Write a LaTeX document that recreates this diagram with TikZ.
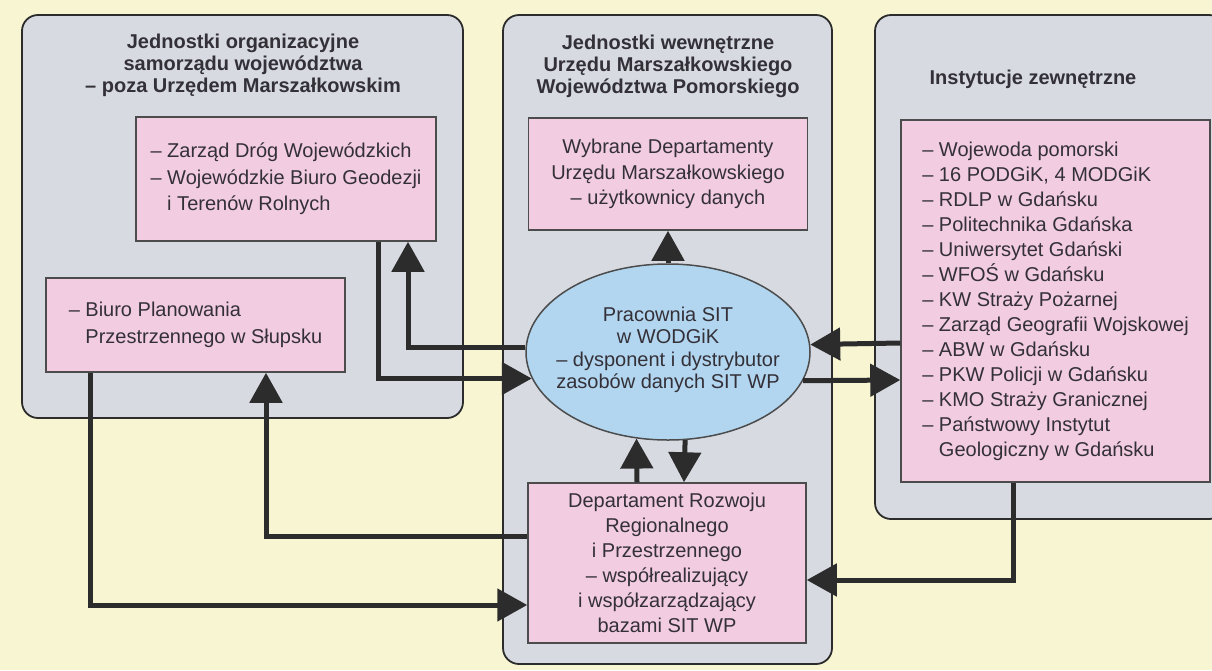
\documentclass[tikz,border=0pt]{standalone}
\usepackage{fontspec}
\setmainfont{Liberation Sans}
\usetikzlibrary{arrows.meta,shapes.geometric}
\definecolor{bgyellow}{HTML}{F7F5D2}
\definecolor{grpgray}{HTML}{D7DBE1}
\definecolor{boxpink}{HTML}{F2CCE0}
\definecolor{ellblue}{HTML}{B3D6F0}
\definecolor{linedark}{HTML}{2C2C2C}
\definecolor{txtdark}{HTML}{333038}

\begin{document}
\begin{tikzpicture}[x=1pt, y=-1pt, >={Triangle[length=30pt,width=32pt]},
    grp/.style={draw=linedark, line width=1.8pt, fill=grpgray, rounded corners=16pt, inner sep=0pt},
    grptitle/.style={font=\fontsize{20}{22}\selectfont\bfseries, text=txtdark, align=center, inner sep=0pt},
    pinkbox/.style={draw=linedark!85, line width=1.5pt, fill=boxpink, inner sep=0pt, align=left,
        text=txtdark, font=\fontsize{20}{25.5}\selectfont},
    flow/.style={draw=linedark, line width=5pt}]
                \useasboundingbox (0,0) rectangle (1212,670);
                \clip (0,0) rectangle (1212,670);
                \fill[bgyellow] (0,0) rectangle (1212,670);

                % Groups
                \node[grp, minimum width=441pt, minimum height=403pt] at (242.5,216.5) (grpL) {};
                \node[grp, minimum width=329pt, minimum height=649pt] at (667.5,339.5) (grpM) {};
                \node[grp, minimum width=350pt, minimum height=504pt] at (1050,267) (grpR) {};

                \node[grptitle] at (243,65) (titL) {Jednostki organizacyjne\\samorządu województwa\\– poza Urzędem Marszałkowskim};
                \node[grptitle] at (668,66) (titM) {Jednostki wewnętrzne\\Urzędu Marszałkowskiego\\Województwa Pomorskiego};
                \node[grptitle] at (1033,79) (titR) {Instytucje zewnętrzne};

                % Nodes
                \node[pinkbox, minimum width=300pt, minimum height=124pt, font=\fontsize{20}{26.5}\selectfont] at (286,179) (zdw)
                    {– Zarząd Dróg Wojewódzkich\\– Wojewódzkie Biuro Geodezji\\\hphantom{– }i Terenów Rolnych};
                \node[pinkbox, minimum width=299pt, minimum height=94pt, font=\fontsize{20}{27}\selectfont] at (195.5,325) (biuro)
                    {– Biuro Planowania\\\hphantom{– }Przestrzennego w Słupsku};
                \node[pinkbox, align=center, minimum width=279pt, minimum height=112pt] at (668,174) (wyb)
                    {Wybrane Departamenty\\Urzędu Marszałkowskiego\\– użytkownicy danych};
                \node[pinkbox, align=center, minimum width=278pt, minimum height=160pt, font=\fontsize{20}{25}\selectfont] at (667,563) (dep)
                    {Departament Rozwoju\\Regionalnego\\i Przestrzennego\\– współrealizujący\\i współzarządzający\\bazami SIT WP};
                \node[pinkbox, minimum width=309pt, minimum height=362pt, font=\fontsize{20}{25}\selectfont] at (1055.5,301) (inst)
                    {– Wojewoda pomorski\\– 16 PODGiK, 4 MODGiK\\– RDLP w Gdańsku\\– Politechnika Gdańska\\
                     – Uniwersytet Gdański\\– WFOŚ w Gdańsku\\– KW Straży Pożarnej\\– Zarząd Geografii Wojskowej\\
                     – ABW w Gdańsku\\– PKW Policji w Gdańsku\\– KMO Straży Granicznej\\– Państwowy Instytut\\
                     \hphantom{– }Geologiczny w Gdańsku};
                \node[draw=linedark!85, line width=1.5pt, fill=ellblue, ellipse, minimum width=284pt, minimum height=176pt, inner sep=0pt]
                    at (668,352) (ell) {};
                \node[font=\fontsize{20}{22.5}\selectfont, text=txtdark, align=center, inner sep=0pt] at (668,350) (ellTxt)
                    {Pracownia SIT\\w WODGiK\\– dysponent i dystrybutor\\zasobów danych SIT WP};

                % Edges
                \draw[flow, ->] (ell.north) -- (wyb.south);
                \draw[flow, ->] ([xshift=92pt]zdw.south) |- (ell.191.7);
                \draw[flow, ->] (ell.178) -| ([xshift=122pt]zdw.south);
                \draw[flow, ->] ([xshift=-105.5pt]biuro.south) |- ([yshift=-42pt]dep.west);
                \draw[flow, ->] ([yshift=27pt]dep.west) -| ([xshift=70.5pt]biuro.south);
                \draw[flow, ->] ([xshift=-30pt]dep.north) -- (ell.250.8);
                \draw[flow, ->] (ell.281) -- ([xshift=17pt]dep.north);
                \draw[flow, ->] ([yshift=-42pt]inst.west) -- (ell.3.6);
                \draw[flow, ->] (ell.348.25) -- ([yshift=-79pt]inst.west);
                \draw[flow, ->] ([xshift=-42.5pt]inst.south) |- ([yshift=-17pt]dep.east);
\end{tikzpicture}
\end{document}
